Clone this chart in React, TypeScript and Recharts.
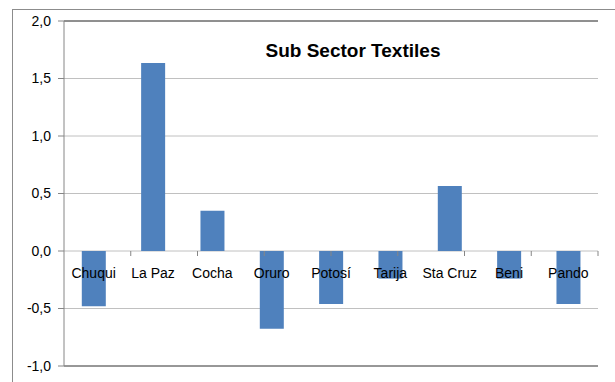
import React from "react";
import { BarChart, Bar, XAxis, YAxis, CartesianGrid, ReferenceDot, ReferenceLine } from "recharts";

const categories = ["Chuqui", "La Paz", "Cocha", "Oruro", "Potosí", "Tarija", "Sta Cruz", "Beni", "Pando"];
const values = [-0.48, 1.635, 0.35, -0.675, -0.46, -0.24, 0.565, -0.24, -0.46];
const yTicks = [-1, -0.5, 0, 0.5, 1, 1.5, 2];
const boundaryTicks = [1, 2, 3, 4, 5, 6, 7, 8];
const title = "Sub Sector Textiles";

const data = categories.map((name, i) => ({ name, value: values[i] }));

const FONT = "'Liberation Sans', Arial, sans-serif";

export default function App() {
  return (
    <div style={{ position: "fixed", left: 0, top: 0, width: 615, height: 382, overflow: "hidden", background: "#fff" }}>
      <div style={{ position: "absolute", left: 12, top: 9, width: 700, height: 500, border: "1px solid #8c8c8c" }} />
      <div style={{ position: "absolute", left: 0, top: 0 }}>
        <BarChart width={615} height={382} data={data} margin={{ top: 21, right: 17, bottom: 16, left: 14 }} barCategoryGap="30%">
          <CartesianGrid horizontal vertical={false} stroke="#c0c0c0" />
          <XAxis dataKey="name" hide />
          <XAxis xAxisId="n" type="number" domain={[0, 9]} hide />
          <YAxis
            domain={[-1, 2]}
            ticks={yTicks}
            interval={0}
            width={50}
            tickFormatter={(v: number) => v.toFixed(1).replace(".", ",")}
            axisLine={{ stroke: "#868686" }}
            tickLine={{ stroke: "#868686" }}
            tickSize={6}
            tickMargin={7}
            tick={{ fill: "#000", fontSize: 14, fontFamily: FONT }}
          />
          <YAxis yAxisId="r" orientation="right" width={0} tick={false} axisLine={{ stroke: "#6e6e6e" }} tickLine={false} domain={[-1, 2]} />
          <ReferenceLine y={2} stroke="#404040" />
          <ReferenceLine y={-1} stroke="#505050" />
          <Bar dataKey="value" fill="#4F81BD" isAnimationActive={false} />
          {boundaryTicks.map((t) => (
            <ReferenceDot
              key={"t" + t}
              xAxisId="n"
              x={t}
              y={0}
              r={0}
              shape={(p: any) => <line x1={p.cx} y1={p.cy} x2={p.cx} y2={p.cy + 5} stroke="#868686" />}
            />
          ))}
          {categories.map((c) => (
            <ReferenceDot
              key={c}
              x={c}
              y={0}
              r={0}
              shape={(p: any) => (
                <text x={p.cx} y={p.cy + 22} textAnchor="middle" dominantBaseline="central" fontSize={14} fontFamily={FONT} fill="#000">
                  {c}
                </text>
              )}
            />
          ))}
        </BarChart>
      </div>
      <div
        style={{
          position: "absolute",
          left: 253,
          top: 38,
          width: 200,
          textAlign: "center",
          fontFamily: FONT,
          fontWeight: "bold",
          fontSize: 19,
          color: "#000",
          lineHeight: "26px",
        }}
      >
        {title}
      </div>
    </div>
  );
}
